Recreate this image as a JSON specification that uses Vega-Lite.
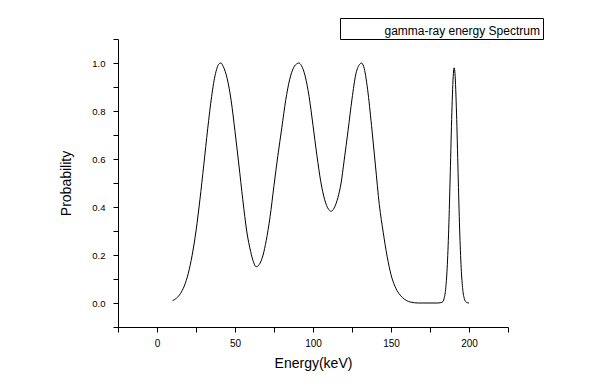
{
  "$schema": "https://vega.github.io/schema/vega-lite/v6.json",
  "width": 390,
  "height": 288,
  "autosize": {"type": "none"},
  "padding": {"left": 118, "top": 39, "right": 107, "bottom": 64},
  "background": "white",
  "config": {"view": {"stroke": null}, "font": "Liberation Sans"},
  "data": {"values": [
    {"energy": 10, "probability": 0.010},
    {"energy": 12.5, "probability": 0.020},
    {"energy": 15, "probability": 0.039},
    {"energy": 17.5, "probability": 0.071},
    {"energy": 20, "probability": 0.122},
    {"energy": 22.5, "probability": 0.198},
    {"energy": 25, "probability": 0.300},
    {"energy": 27.5, "probability": 0.430},
    {"energy": 30, "probability": 0.576},
    {"energy": 32.5, "probability": 0.726},
    {"energy": 35, "probability": 0.860},
    {"energy": 37.5, "probability": 0.956},
    {"energy": 40, "probability": 0.998},
    {"energy": 41, "probability": 1.0},
    {"energy": 42.5, "probability": 0.985},
    {"energy": 45, "probability": 0.935},
    {"energy": 47.5, "probability": 0.845},
    {"energy": 50, "probability": 0.715},
    {"energy": 52.5, "probability": 0.575},
    {"energy": 55, "probability": 0.430},
    {"energy": 57.5, "probability": 0.300},
    {"energy": 60, "probability": 0.215},
    {"energy": 62, "probability": 0.168},
    {"energy": 63.5, "probability": 0.151},
    {"energy": 65.5, "probability": 0.160},
    {"energy": 68, "probability": 0.200},
    {"energy": 70, "probability": 0.260},
    {"energy": 72.5, "probability": 0.360},
    {"energy": 75, "probability": 0.490},
    {"energy": 77.5, "probability": 0.615},
    {"energy": 80, "probability": 0.730},
    {"energy": 82.5, "probability": 0.845},
    {"energy": 85, "probability": 0.930},
    {"energy": 87.5, "probability": 0.980},
    {"energy": 90, "probability": 0.998},
    {"energy": 91, "probability": 1.0},
    {"energy": 92.5, "probability": 0.990},
    {"energy": 95, "probability": 0.945},
    {"energy": 97.5, "probability": 0.860},
    {"energy": 100, "probability": 0.740},
    {"energy": 102.5, "probability": 0.615},
    {"energy": 105, "probability": 0.505},
    {"energy": 107.5, "probability": 0.430},
    {"energy": 110, "probability": 0.390},
    {"energy": 111.5, "probability": 0.382},
    {"energy": 113.5, "probability": 0.395},
    {"energy": 116, "probability": 0.440},
    {"energy": 118, "probability": 0.500},
    {"energy": 120, "probability": 0.595},
    {"energy": 122.5, "probability": 0.720},
    {"energy": 125, "probability": 0.850},
    {"energy": 127.5, "probability": 0.955},
    {"energy": 130, "probability": 0.995},
    {"energy": 131, "probability": 1.0},
    {"energy": 132.5, "probability": 0.985},
    {"energy": 135, "probability": 0.890},
    {"energy": 137.5, "probability": 0.740},
    {"energy": 140, "probability": 0.575},
    {"energy": 142.5, "probability": 0.410},
    {"energy": 145, "probability": 0.295},
    {"energy": 147.5, "probability": 0.195},
    {"energy": 150, "probability": 0.118},
    {"energy": 152.5, "probability": 0.070},
    {"energy": 155, "probability": 0.040},
    {"energy": 157.5, "probability": 0.022},
    {"energy": 160, "probability": 0.010},
    {"energy": 162.5, "probability": 0.004},
    {"energy": 165, "probability": 0.001},
    {"energy": 167.5, "probability": 0.0},
    {"energy": 170, "probability": 0.0},
    {"energy": 175, "probability": 0.0},
    {"energy": 180, "probability": 0.0},
    {"energy": 183, "probability": 0.004},
    {"energy": 184, "probability": 0.018},
    {"energy": 185, "probability": 0.056},
    {"energy": 186, "probability": 0.145},
    {"energy": 187, "probability": 0.308},
    {"energy": 188, "probability": 0.543},
    {"energy": 189, "probability": 0.792},
    {"energy": 190, "probability": 0.957},
    {"energy": 190.5, "probability": 0.980},
    {"energy": 191, "probability": 0.957},
    {"energy": 192, "probability": 0.792},
    {"energy": 193, "probability": 0.543},
    {"energy": 194, "probability": 0.308},
    {"energy": 195, "probability": 0.145},
    {"energy": 196, "probability": 0.056},
    {"energy": 197, "probability": 0.018},
    {"energy": 198, "probability": 0.005},
    {"energy": 199, "probability": 0.001},
    {"energy": 200, "probability": 0.0}
  ]},
  "mark": {"type": "line", "interpolate": "monotone", "strokeWidth": 1},
  "encoding": {
    "x": {
      "field": "energy",
      "type": "quantitative",
      "scale": {"domain": [-25, 225], "nice": false, "zero": false},
      "title": "Energy(keV)",
      "axis": {
        "values": [-25, 0, 25, 50, 75, 100, 125, 150, 175, 200, 225],
        "labelExpr": "(datum.value % 50 == 0 && datum.value >= 0 && datum.value <= 200) ? datum.label : ''",
        "grid": false,
        "domainColor": "black",
        "tickColor": "black",
        "tickSize": 5,
        "labelFontSize": 10,
        "labelColor": "black",
        "labelPadding": 6,
        "labelFlush": false,
        "labelOverlap": false,
        "titleFontSize": 14,
        "titleFontWeight": "normal",
        "titleColor": "black",
        "titlePadding": 8
      }
    },
    "y": {
      "field": "probability",
      "type": "quantitative",
      "scale": {"domain": [-0.1, 1.1], "nice": false, "zero": false},
      "title": "Probability",
      "axis": {
        "values": [-0.1, 0, 0.1, 0.2, 0.3, 0.4, 0.5, 0.6, 0.7, 0.8, 0.9, 1.0, 1.1],
        "format": ".1f",
        "labelExpr": "(abs(round(datum.value * 10)) % 2 == 0 && datum.value > -0.05 && datum.value < 1.05) ? datum.label : ''",
        "grid": false,
        "domainColor": "black",
        "tickColor": "black",
        "tickSize": 5,
        "labelFontSize": 9.5,
        "labelColor": "black",
        "labelPadding": 8,
        "labelFlush": false,
        "labelOverlap": false,
        "titleFontSize": 14,
        "titleFontWeight": "normal",
        "titleColor": "black",
        "titlePadding": 18
      }
    },
    "color": {
      "datum": "gamma-ray energy Spectrum",
      "type": "nominal",
      "scale": {"range": ["black"]},
      "legend": {
        "orient": "none",
        "legendX": 222,
        "legendY": -21,
        "title": null,
        "strokeColor": "black",
        "fillColor": "white",
        "padding": 2.5,
        "cornerRadius": 0,
        "symbolType": "stroke",
        "symbolOpacity": 0,
        "symbolStrokeWidth": 0,
        "symbolSize": 400,
        "labelFontSize": 12,
        "labelColor": "black",
        "labelOffset": 22
      }
    }
  }
}
